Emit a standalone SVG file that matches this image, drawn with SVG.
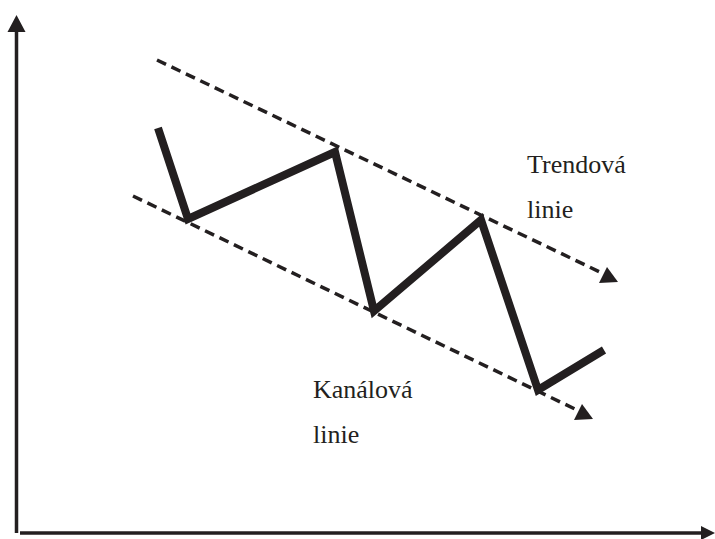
<svg xmlns="http://www.w3.org/2000/svg" width="715" height="539" viewBox="0 0 715 539">
<defs>
<style>
.axis{stroke:#231f20;stroke-width:3.5;fill:none}
.dash{stroke:#231f20;stroke-width:3.5;fill:none;stroke-dasharray:10 6}
.zig{stroke:#231f20;stroke-width:8;fill:none;stroke-linejoin:miter}
.lbl{font-family:"Liberation Serif","Times New Roman",serif;font-size:26px;fill:#231f20}
.head{fill:#231f20}
</style>
</defs>
<rect width="715" height="539" fill="#fff"/>
<g id="axes">
<line class="axis" x1="16.5" y1="533" x2="16.5" y2="30"/>
<polygon class="head" points="16.5,15 7.5,32 25.5,32"/>
<line class="axis" x1="20" y1="533" x2="702" y2="533"/>
<polygon class="head" points="715,533 701,526 701,540"/>
</g>
<g id="connectors">
<g id="trend-line">
<line class="dash" x1="157" y1="60" x2="604" y2="274"/>
<polygon class="head" points="618,282 599,283 607,267"/>
</g>
<g id="channel-line">
<line class="dash" x1="133" y1="196" x2="579" y2="411"/>
<polygon class="head" points="593,419 574,420 582,404"/>
</g>
</g>
<g id="price">
<polyline class="zig" points="158,128 188,219 335,152 374,311 481,220 538,390 604,350"/>
</g>
<g id="label-trend">
<text class="lbl" x="527" y="173">Trendová</text>
<text class="lbl" x="527" y="218">linie</text>
</g>
<g id="label-channel">
<text class="lbl" x="313" y="398">Kanálová</text>
<text class="lbl" x="313" y="443">linie</text>
</g>
</svg>
